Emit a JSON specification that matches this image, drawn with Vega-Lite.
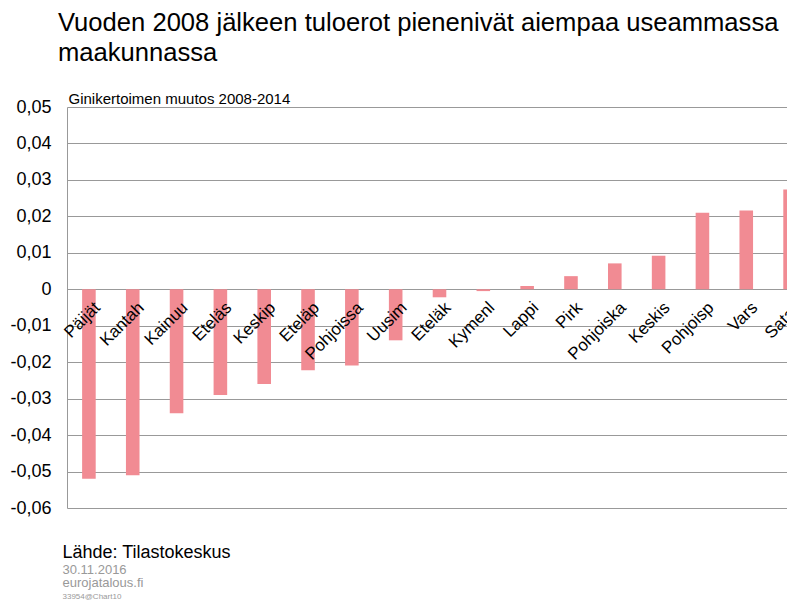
{
  "$schema": "https://vega.github.io/schema/vega-lite/v6.json",
  "autosize": "none",
  "padding": {"left": 67, "top": 107, "right": 0, "bottom": 93},
  "width": 745,
  "height": 401,
  "background": "white",
  "title": {
    "text": ["Vuoden 2008 jälkeen tuloerot pienenivät aiempaa useammassa", "maakunnassa"],
    "anchor": "start",
    "frame": "group",
    "dx": -9,
    "offset": 24,
    "font": "Liberation Sans",
    "fontSize": 25.6,
    "fontWeight": "normal",
    "color": "#000000",
    "lineHeight": 30
  },
  "data": {
    "values": [
      {"maakunta": "Päijät", "muutos": -0.052},
      {"maakunta": "Kantah", "muutos": -0.051},
      {"maakunta": "Kainuu", "muutos": -0.034},
      {"maakunta": "Eteläs", "muutos": -0.029},
      {"maakunta": "Keskip", "muutos": -0.026},
      {"maakunta": "Eteläp", "muutos": -0.0222},
      {"maakunta": "Pohjoissa", "muutos": -0.0209},
      {"maakunta": "Uusim", "muutos": -0.014},
      {"maakunta": "Eteläk", "muutos": -0.0022},
      {"maakunta": "Kymenl", "muutos": -0.0005},
      {"maakunta": "Lappi", "muutos": 0.0009},
      {"maakunta": "Pirk", "muutos": 0.0036},
      {"maakunta": "Pohjoiska", "muutos": 0.0071},
      {"maakunta": "Keskis", "muutos": 0.0092},
      {"maakunta": "Pohjoisp", "muutos": 0.021},
      {"maakunta": "Vars", "muutos": 0.0216},
      {"maakunta": "Satak", "muutos": 0.0274}
    ]
  },
  "layer": [
    {
      "mark": {"type": "bar", "color": "#f18b93"},
      "encoding": {
        "x": {
          "field": "maakunta",
          "type": "nominal",
          "sort": null,
          "scale": {"paddingInner": 0.69, "paddingOuter": 0.345},
          "axis": {
            "orient": "bottom",
            "offset": -219,
            "zindex": 1,
            "domain": false,
            "ticks": false,
            "grid": false,
            "labelAngle": -45,
            "labelAlign": "right",
            "labelBaseline": "top",
            "labelPadding": 10,
            "labelOffset": 3,
            "labelOverlap": false,
            "labelBound": false,
            "labelFlush": false,
            "labelFont": "Liberation Sans",
            "labelFontSize": 17,
            "labelColor": "#000000",
            "title": "Lähde: Tilastokeskus",
            "titleFont": "Liberation Sans",
            "titleFontSize": 18,
            "titleFontWeight": "normal",
            "titleColor": "#000000",
            "titleAlign": "left",
            "titleBaseline": "alphabetic",
            "titleX": -5,
            "titleY": 268
          }
        },
        "y": {
          "field": "muutos",
          "type": "quantitative",
          "scale": {"domain": [-0.06, 0.05], "nice": false, "zero": false},
          "axis": {
            "orient": "left",
            "values": [-0.06, -0.05, -0.04, -0.03, -0.02, -0.01, 0, 0.01, 0.02, 0.03, 0.04, 0.05],
            "labelExpr": "abs(datum.value) < 1e-9 ? '0' : replace(replace(replace(format(datum.value, '.2f'), '.', ','), '−', '-'), '\u2212', '-')",
            "domain": true,
            "domainColor": "#999999",
            "domainWidth": 1,
            "ticks": false,
            "grid": true,
            "gridColor": "#999999",
            "gridWidth": 1,
            "labelPadding": 16,
            "labelFont": "Liberation Sans",
            "labelFontSize": 18,
            "labelColor": "#000000",
            "labelBaseline": "middle",
            "title": ["30.11.2016", "eurojatalous.fi"],
            "titleFont": "Liberation Sans",
            "titleFontSize": 13,
            "titleFontWeight": "normal",
            "titleColor": "#999999",
            "titleLineHeight": 13.5,
            "titleAngle": 0,
            "titleAlign": "left",
            "titleBaseline": "alphabetic",
            "titleX": -5,
            "titleY": 466
          }
        }
      }
    },
    {
      "mark": {"type": "bar", "opacity": 0},
      "encoding": {
        "x": {
          "field": "maakunta",
          "type": "nominal",
          "sort": null,
          "axis": {
            "orient": "top",
            "domain": false,
            "ticks": false,
            "labels": false,
            "grid": false,
            "title": "Ginikertoimen muutos 2008-2014",
            "titleFont": "Liberation Sans",
            "titleFontSize": 15,
            "titleFontWeight": "normal",
            "titleColor": "#000000",
            "titleAlign": "left",
            "titleBaseline": "alphabetic",
            "titleX": 1,
            "titleY": -4
          }
        },
        "y": {
          "field": "muutos",
          "type": "quantitative",
          "axis": {
            "orient": "right",
            "domain": false,
            "ticks": false,
            "labels": false,
            "grid": false,
            "title": "33954@Chart10",
            "titleFont": "Liberation Sans",
            "titleFontSize": 8,
            "titleFontWeight": "normal",
            "titleColor": "#999999",
            "titleAngle": 0,
            "titleAlign": "left",
            "titleBaseline": "alphabetic",
            "titleX": -750,
            "titleY": 491
          }
        }
      }
    }
  ],
  "resolve": {"axis": {"x": "independent", "y": "independent"}},
  "config": {
    "view": {"stroke": null},
    "font": "Liberation Sans"
  }
}
